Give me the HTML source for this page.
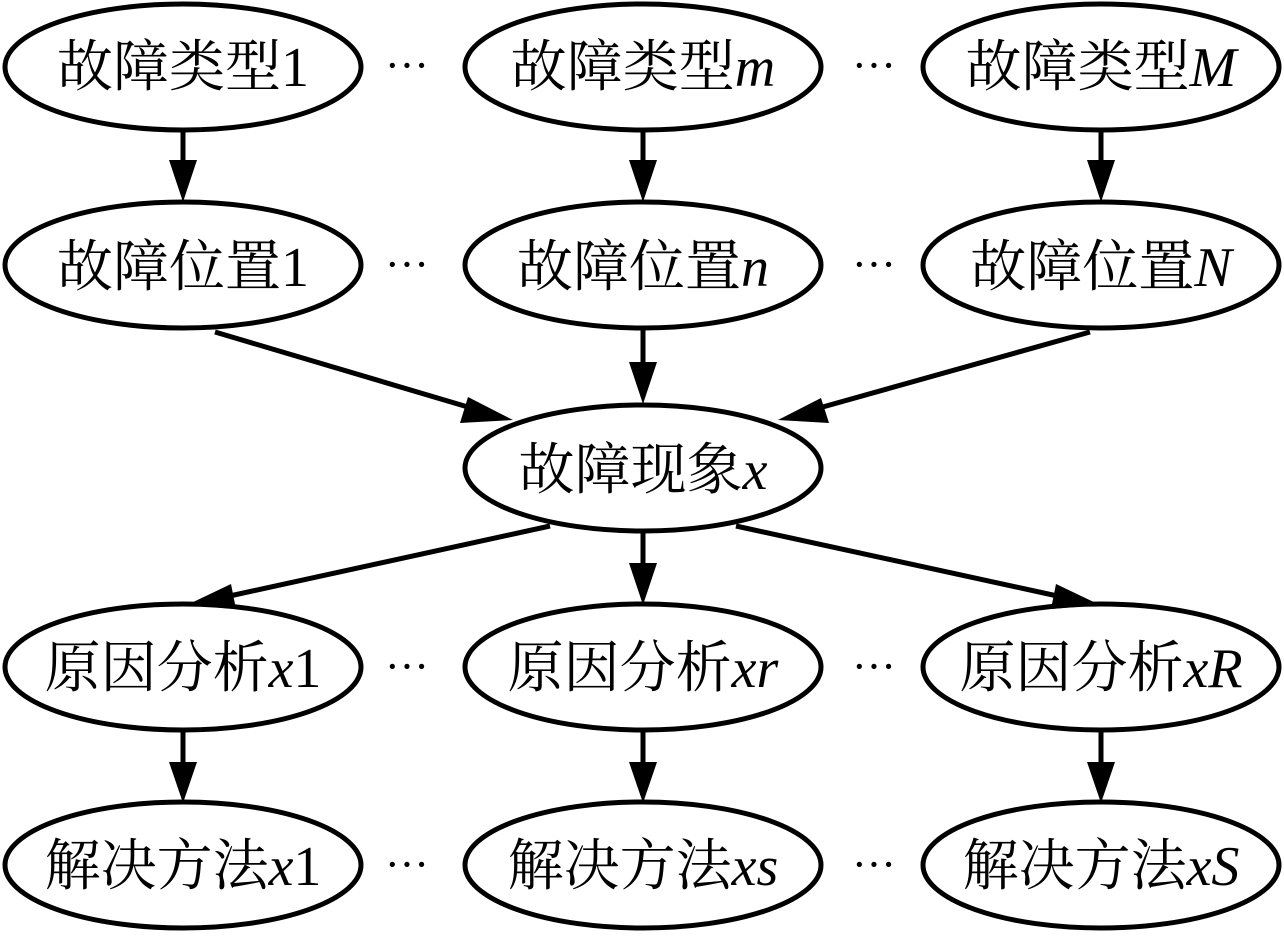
<!DOCTYPE html>
<html><head><meta charset="utf-8"><style>
html,body{margin:0;padding:0;background:#fff;}
svg{display:block}
text{font-family:"Liberation Serif","Noto Serif CJK SC","Noto Serif CJK",serif;font-size:56px;fill:#000}
.i{font-style:italic}
.d{font-size:44px;font-family:"Liberation Serif",serif}
</style></head><body>
<svg width="1284" height="940" viewBox="0 0 1284 940">
<g fill="none" stroke="#000" stroke-width="5">
<ellipse cx="183" cy="67" rx="178" ry="63"/>
<ellipse cx="643" cy="67" rx="178" ry="63"/>
<ellipse cx="1101" cy="67" rx="178" ry="63"/>
<ellipse cx="183" cy="265" rx="178" ry="63"/>
<ellipse cx="643" cy="265" rx="178" ry="63"/>
<ellipse cx="1101" cy="265" rx="178" ry="63"/>
<ellipse cx="643" cy="468" rx="178" ry="63"/>
<ellipse cx="183" cy="667" rx="178" ry="63"/>
<ellipse cx="643" cy="667" rx="178" ry="63"/>
<ellipse cx="1101" cy="667" rx="178" ry="63"/>
<ellipse cx="183" cy="865" rx="178" ry="63"/>
<ellipse cx="643" cy="865" rx="178" ry="63"/>
<ellipse cx="1101" cy="865" rx="178" ry="63"/>
<line x1="183" y1="130" x2="183" y2="165"/>
<line x1="643" y1="130" x2="643" y2="165"/>
<line x1="1101" y1="130" x2="1101" y2="165"/>
<line x1="643" y1="328" x2="643" y2="365"/>
<line x1="215" y1="332" x2="478" y2="410"/>
<line x1="1090" y1="332" x2="812" y2="410"/>
<line x1="643" y1="531" x2="643" y2="565"/>
<line x1="550" y1="526" x2="225" y2="597"/>
<line x1="736" y1="526" x2="1062" y2="597"/>
<line x1="183" y1="730" x2="183" y2="765"/>
<line x1="643" y1="730" x2="643" y2="765"/>
<line x1="1101" y1="730" x2="1101" y2="765"/>
</g>
<g fill="#000">
<polygon points="169,160 197,160 183,202"/>
<polygon points="629,160 657,160 643,202"/>
<polygon points="1087,160 1115,160 1101,202"/>
<polygon points="629,362 657,362 643,404"/>
<polygon points="629,563 657,563 643,605"/>
<polygon points="169,762 197,762 183,803"/>
<polygon points="629,762 657,762 643,803"/>
<polygon points="1087,762 1115,762 1101,803"/>
<polygon points="468,397 513,420 460,423"/>
<polygon points="821,398 778,420 829,423"/>
<polygon points="231,584 187,605 236,609"/>
<polygon points="1056,584 1100,605 1051,609"/>
</g>
<g text-anchor="middle">
<text x="183" y="86">故障类型1</text>
<text x="643" y="86">故障类型<tspan class="i">m</tspan></text>
<text x="1101" y="86">故障类型<tspan class="i">M</tspan></text>
<text x="183" y="286">故障位置1</text>
<text x="643" y="286">故障位置<tspan class="i">n</tspan></text>
<text x="1101" y="286">故障位置<tspan class="i">N</tspan></text>
<text x="643" y="489">故障现象<tspan class="i">x</tspan></text>
<text x="183" y="687">原因分析<tspan class="i">x</tspan>1</text>
<text x="643" y="687">原因分析<tspan class="i">xr</tspan></text>
<text x="1101" y="687">原因分析<tspan class="i">xR</tspan></text>
<text x="183" y="885">解决方法<tspan class="i">x</tspan>1</text>
<text x="643" y="885">解决方法<tspan class="i">xs</tspan></text>
<text x="1101" y="885">解决方法<tspan class="i">xS</tspan></text>
</g>
<g>
<text class="d" x="385" y="80">···</text><text class="d" x="852" y="80">···</text>
<text class="d" x="385" y="279">···</text><text class="d" x="852" y="279">···</text>
<text class="d" x="385" y="681">···</text><text class="d" x="852" y="681">···</text>
<text class="d" x="385" y="879">···</text><text class="d" x="852" y="879">···</text>
</g>
</svg>
</body></html>
